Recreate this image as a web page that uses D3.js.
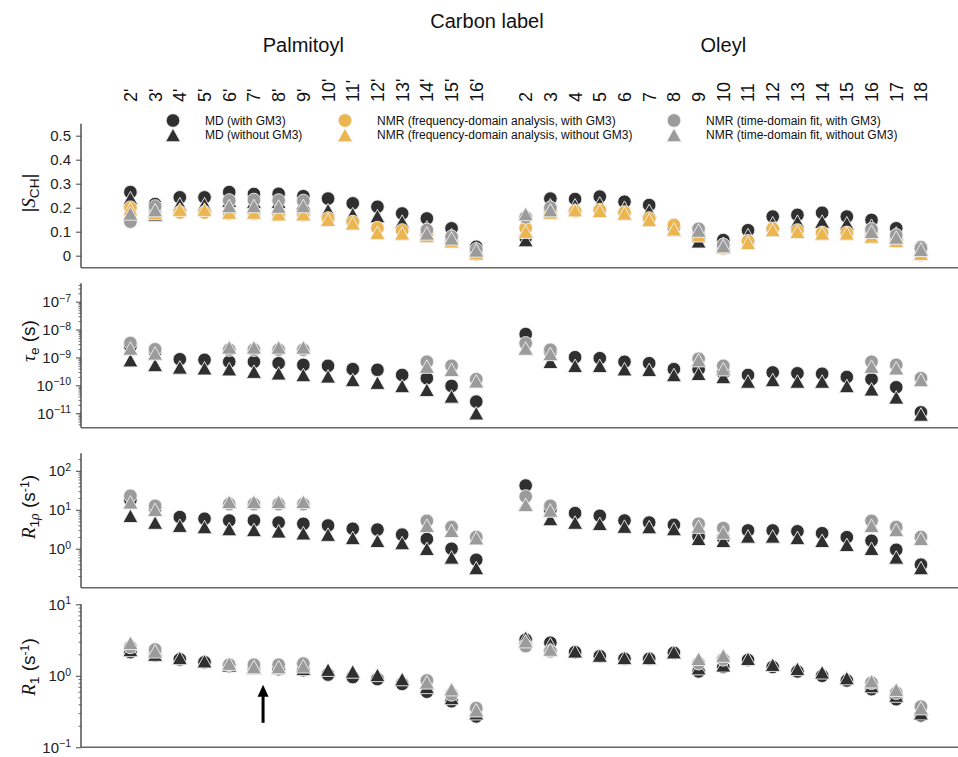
<!DOCTYPE html>
<html>
<head>
<meta charset="utf-8">
<script src="https://cdn.jsdelivr.net/npm/d3@7"></script>
<style>
  body { margin: 0; background: #fff; }
  svg { display: block; font-family: "Liberation Sans", Arial, Helvetica, sans-serif; }
</style>
</head>
<body>
<svg id="chart" width="958" height="757"></svg>
<script>
// ---- carbon positions ----
const palmitoylLabels = ["2'", "3'", "4'", "5'", "6'", "7'", "8'", "9'", "10'", "11'", "12'", "13'", "14'", "15'", "16'"];
const oleylLabels = ["2", "3", "4", "5", "6", "7", "8", "9", "10", "11", "12", "13", "14", "15", "16", "17", "18"];

// ---- series ----
const seriesNames = [
  "MD (with GM3)", "MD (without GM3)",
  "NMR (frequency-domain analysis, with GM3)", "NMR (frequency-domain analysis, without GM3)",
  "NMR (time-domain fit, with GM3)", "NMR (time-domain fit, without GM3)"
];
const seriesColors = ["#2f2f2f", "#2f2f2f", "#ebb550", "#ebb550", "#9b9b9b", "#9b9b9b"];
const seriesShapes = ["circle", "triangle", "circle", "triangle", "circle", "triangle"];

// ---- |S_CH| (palmitoyl 2'..16', then oleyl 2..18) ----
const sMDWith = [.265, .215, .243, .243, .265, .257, .258, .248, .238, .218, .204, .176, .155, .114, .037,
  .075, .238, .236, .246, .225, .211, .12, .07, .065, .106, .163, .17, .179, .163, .149, .114, .035];
const sMDWithout = [.24, .172, .215, .215, .23, .225, .225, .218, .19, .173, .165, .142, .118, .086, .03,
  .065, .21, .21, .218, .2, .187, .108, .06, .05, .086, .135, .142, .142, .135, .125, .093, .028];
const sFreqWith = [.2, .185, .18, .18, .175, .175, .17, .17, .155, .14, .115, .105, .085, .062, .005,
  .115, .185, .185, .19, .18, .155, .128, .09, .03, .06, .112, .105, .095, .095, .085, .065, .003];
const sFreqWithout = [.195, .178, .192, .192, .18, .18, .173, .173, .15, .135, .096, .093, .082, .06, .01,
  .1, .18, .19, .187, .176, .149, .11, .085, .035, .054, .107, .1, .093, .093, .08, .062, .008];
const sTimeWith = [.142, .205, null, null, .23, .232, .23, .228, null, null, null, null, .107, .079, .026,
  .16, .2, null, null, null, null, null, .112, .045, null, null, null, null, null, .11, .085, .03];
const sTimeWithout = [.176, .19, null, null, .207, .207, .205, .207, null, null, null, null, .093, .072, .022,
  .174, .19, null, null, null, null, null, .105, .04, null, null, null, null, null, .1, .076, .025];

// ---- tau_e (s) ----
const tauMDWith = [2.5e-9, 1.6e-9, 8.6e-10, 8.2e-10, 7e-10, 7e-10, 6.2e-10, 5.4e-10, 5e-10, 3.8e-10, 3.6e-10, 2.35e-10, 1.8e-10, 9.5e-11, 2.6e-11,
  6.9e-9, 1.6e-9, 1.02e-9, 9.4e-10, 7e-10, 6.2e-10, 3.8e-10, 3.8e-10, 2.7e-10, 2.35e-10, 2.9e-10, 2.7e-10, 2.6e-10, 2e-10, 1.66e-10, 8.5e-11, 1.07e-11];
const tauMDWithout = [8e-10, 5.4e-10, 4.4e-10, 4.1e-10, 3.8e-10, 3.1e-10, 2.7e-10, 2.35e-10, 2.1e-10, 1.56e-10, 1.25e-10, 9.5e-11, 6.9e-11, 4e-11, 1e-11,
  2.2e-9, 7e-10, 5e-10, 5e-10, 3.8e-10, 3.6e-10, 2.35e-10, 2.6e-10, 2e-10, 1.37e-10, 1.56e-10, 1.37e-10, 1.37e-10, 9.5e-11, 7.2e-11, 3.7e-11, 9e-12];
const tauTimeWith = [3.3e-9, 1.95e-9, null, null, 1.9e-9, 1.9e-9, 1.9e-9, 1.9e-9, null, null, null, null, 7e-10, 5e-10, 1.66e-10,
  3.2e-9, 1.9e-9, null, null, null, null, null, 9e-10, 5e-10, null, null, null, null, null, 7e-10, 5.4e-10, 1.8e-10];
const tauTimeWithout = [2.1e-9, 1.4e-9, null, null, 2.3e-9, 2.3e-9, 2.3e-9, 2.3e-9, null, null, null, null, 4.7e-10, 3.6e-10, 1.4e-10,
  2.1e-9, 1.34e-9, null, null, null, null, null, 8e-10, 3.8e-10, null, null, null, null, null, 4.7e-10, 4.1e-10, 1.56e-10];

// ---- R1rho (1/s) ----
const r1rMDWith = [18, 11, 6.5, 5.9, 5.3, 5.3, 4.7, 4.35, 3.96, 3.26, 3.1, 2.3, 1.77, 1.0, 0.52,
  42, 10, 8.2, 7, 5.3, 4.7, 4.1, 2.07, 1.9, 2.95, 2.95, 2.8, 2.5, 1.98, 1.6, 0.94, 0.39];
const r1rMDWithout = [7, 4.7, 3.9, 3.6, 3.2, 3.05, 2.8, 2.5, 2.3, 1.9, 1.6, 1.4, 1.0, 0.6, 0.32,
  14, 5.8, 4.7, 4.35, 3.7, 3.6, 3.2, 1.8, 1.6, 2.07, 2.07, 1.9, 1.6, 1.26, 1.0, 0.6, 0.32];
const r1rTimeWith = [22.9, 12.6, null, null, 14, 14, 14, 14, null, null, null, null, 5.2, 3.6, 2.0,
  21.9, 12.6, null, null, null, null, null, 4.35, 3.4, null, null, null, null, null, 5.2, 3.6, 2.0];
const r1rTimeWithout = [15.5, 10, null, null, 16, 16, 16, 16, null, null, null, null, 3.9, 2.9, 1.87,
  13.4, 9.6, null, null, null, null, null, 3.7, 2.6, null, null, null, null, null, 3.9, 3.05, 1.8];

// ---- R1 (1/s) ----
const r1MDWith = [2.14, 1.92, 1.7, 1.55, 1.36, 1.29, 1.24, 1.2, 1.04, 0.96, 0.9, 0.77, 0.6, 0.44, 0.27,
  3.2, 2.9, 2.14, 1.88, 1.73, 1.73, 2.1, 1.15, 1.33, 1.66, 1.33, 1.15, 1.0, 0.86, 0.65, 0.47, 0.28];
const r1MDWithout = [2.3, 1.98, 1.78, 1.6, 1.4, 1.3, 1.3, 1.25, 1.22, 1.15, 1.03, 0.9, 0.7, 0.49, 0.3,
  3.4, 2.75, 2.2, 1.92, 1.78, 1.78, 2.14, 1.28, 1.4, 1.73, 1.43, 1.25, 1.12, 0.93, 0.72, 0.53, 0.3];
const r1TimeWith = [2.54, 2.33, null, null, 1.43, 1.43, 1.43, 1.48, null, null, null, null, 0.86, 0.55, 0.353,
  2.6, 2.2, null, null, null, null, null, 1.5, 1.7, null, null, null, null, null, 0.8, 0.58, 0.37];
const r1TimeWithout = [2.89, 2.2, null, null, 1.48, 1.33, 1.33, 1.36, null, null, null, null, 0.81, 0.65, 0.33,
  3.05, 2.33, null, null, null, null, null, 1.73, 1.92, null, null, null, null, null, 0.84, 0.64, 0.353];

const sTicks = [0, 0.1, 0.2, 0.3, 0.4, 0.5];
const tauTicks = [1e-11, 1e-10, 1e-9, 1e-8, 1e-7];
const r1rTicks = [1e0, 1e1, 1e2];
const r1Ticks = [1e-1, 1e0, 1e1];

// ---- layout ----
const svg = d3.select("#chart");
const left = 81, right = 958;
const axisColor = "#444";

// palmitoyl carbons take slots 0..14, one empty slot, oleyl carbons 16..32
const carbonLabels = palmitoylLabels.concat(oleylLabels);
const slot = carbonLabels.map((d, i) => i < palmitoylLabels.length ? i : i + 1);
const x = d3.scaleLinear().domain([-2, 33.5]).range([left, right]);

// titles
svg.append("text").attr("x", 487).attr("y", 28).attr("text-anchor", "middle")
  .attr("font-size", 20).attr("fill", "#111").text("Carbon label");
svg.append("text").attr("x", x((0 + 14) / 2)).attr("y", 52).attr("text-anchor", "middle")
  .attr("font-size", 20).attr("fill", "#111").text("Palmitoyl");
svg.append("text").attr("x", x((16 + 32) / 2)).attr("y", 52).attr("text-anchor", "middle")
  .attr("font-size", 20).attr("fill", "#111").text("Oleyl");

// carbon tick labels along the top
svg.append("g").selectAll("text").data(carbonLabels).join("text")
  .attr("transform", (d, i) => `translate(${x(slot[i])},102) rotate(-90)`)
  .attr("dy", "0.36em")
  .attr("font-size", 18).attr("fill", "#111")
  .text(d => d);

// marker shapes
const triangleType = {
  draw(ctx, w) {
    const h = w * 0.9;
    ctx.moveTo(0, -h / 2);
    ctx.lineTo(w / 2, h / 2);
    ctx.lineTo(-w / 2, h / 2);
    ctx.closePath();
  }
};
const markerPath = shape => shape === "circle"
  ? d3.symbol().type(d3.symbolCircle).size(Math.PI * 6.8 * 6.8)()
  : d3.symbol().type(triangleType).size(15)();

const supExp = e => String(e).replace("-", "\u2212");

// panels
const panels = [
  { top: 123.7, bottom: 267.7, log: false, domain: [-0.05, 0.55], ticks: sTicks,
    series: [sMDWith, sMDWithout, sFreqWith, sFreqWithout, sTimeWith, sTimeWithout], label: "S" },
  { top: 283.3, bottom: 427.7, log: true, domain: [Math.pow(10, -11.52), Math.pow(10, -6.34)], ticks: tauTicks,
    series: [tauMDWith, tauMDWithout, null, null, tauTimeWith, tauTimeWithout], label: "tau" },
  { top: 453.3, bottom: 587.7, log: true, domain: [0.1, Math.pow(10, 2.45)], ticks: r1rTicks,
    series: [r1rMDWith, r1rMDWithout, null, null, r1rTimeWith, r1rTimeWithout], label: "r1r" },
  { top: 604.3, bottom: 747.3, log: true, domain: [0.1, 10], ticks: r1Ticks,
    series: [r1MDWith, r1MDWithout, null, null, r1TimeWith, r1TimeWithout], label: "r1" }
];

panels.forEach((p, pi) => {
  const y = (p.log ? d3.scaleLog() : d3.scaleLinear()).domain(p.domain).range([p.bottom, p.top]);
  p.y = y;
  const g = svg.append("g");

  // minor ticks for log axes
  if (p.log) {
    const minor = [];
    const e0 = Math.floor(Math.log10(p.domain[0])), e1 = Math.ceil(Math.log10(p.domain[1]));
    for (let e = e0; e <= e1; e++) {
      for (let m = 2; m <= 9; m++) {
        const v = m * Math.pow(10, e);
        if (v >= p.domain[0] && v <= p.domain[1]) minor.push(v);
      }
    }
    g.append("g").attr("transform", `translate(${left},0)`)
      .call(d3.axisLeft(y).tickValues(minor).tickSize(2.5).tickSizeOuter(0).tickFormat(""))
      .call(a => a.select(".domain").remove())
      .call(a => a.selectAll("line").attr("stroke", axisColor).attr("stroke-width", 0.8));
  }

  // major ticks + labels
  const ax = g.append("g").attr("transform", `translate(${left},0)`)
    .call(d3.axisLeft(y).tickValues(p.ticks).tickSize(5).tickSizeOuter(0).tickPadding(5)
      .tickFormat(p.log ? () => "" : (d => d === 0 ? "0" : d3.format(".1f")(d))));
  ax.select(".domain").remove();
  ax.selectAll("line").attr("stroke", axisColor).attr("stroke-width", 1);
  ax.selectAll("text").attr("font-size", 15).attr("fill", "#222")
    .attr("font-family", "'Liberation Sans', Arial, sans-serif");
  if (p.log) {
    ax.selectAll(".tick text").each(function(d) {
      const t = d3.select(this);
      t.text("10");
      t.append("tspan").attr("dy", "-0.5em").attr("font-size", "0.7em")
        .text(supExp(Math.round(Math.log10(d))));
    });
  }

  // spines
  g.append("line").attr("x1", left).attr("x2", left).attr("y1", p.top).attr("y2", p.bottom)
    .attr("stroke", axisColor).attr("stroke-width", 1.4);
  g.append("line").attr("x1", left).attr("x2", right).attr("y1", p.bottom).attr("y2", p.bottom)
    .attr("stroke", "#666").attr("stroke-width", 1.6);

  // markers, one series after another
  p.series.forEach((vals, si) => {
    if (!vals) return;
    const pts = vals.map((v, i) => ({ v, i })).filter(d => d.v !== null);
    g.append("g").selectAll("path").data(pts).join("path")
      .attr("d", markerPath(seriesShapes[si]))
      .attr("transform", d => `translate(${x(slot[d.i])},${y(d.v)})`)
      .attr("fill", seriesColors[si])
      .attr("stroke", "#f2f2f2").attr("stroke-width", 0.9);
  });
});

// y-axis titles
const serif = "'Liberation Serif', 'Times New Roman', serif";
function yTitle(cy, build) {
  const t = svg.append("text")
    .attr("transform", `translate(35,${cy}) rotate(-90)`)
    .attr("text-anchor", "middle").attr("font-size", 19).attr("fill", "#111");
  build(t);
}
yTitle(193, t => {
  t.append("tspan").text("|");
  t.append("tspan").attr("font-family", serif).attr("font-style", "italic").text("S");
  t.append("tspan").attr("dy", "0.3em").attr("font-size", "0.72em").text("CH");
  t.append("tspan").attr("dy", "-0.216em").text("|");
});
yTitle(341, t => {
  t.append("tspan").attr("font-family", serif).attr("font-style", "italic").text("\u03c4");
  t.append("tspan").attr("dy", "0.3em").attr("font-size", "0.72em").text("e");
  t.append("tspan").attr("dy", "-0.216em").text(" (s)");
});
yTitle(507, t => {
  t.append("tspan").attr("font-family", serif).attr("font-style", "italic").text("R");
  t.append("tspan").attr("dy", "0.3em").attr("font-size", "0.72em").text("1");
  t.append("tspan").attr("font-size", "0.72em").attr("font-family", serif).attr("font-style", "italic").text("\u03c1");
  t.append("tspan").attr("dy", "-0.216em").text(" (s");
  t.append("tspan").attr("dy", "-0.45em").attr("font-size", "0.65em").text("-1");
  t.append("tspan").attr("dy", "0.29em").text(")");
});
yTitle(667, t => {
  t.append("tspan").attr("font-family", serif).attr("font-style", "italic").text("R");
  t.append("tspan").attr("dy", "0.3em").attr("font-size", "0.72em").text("1");
  t.append("tspan").attr("dy", "-0.216em").text(" (s");
  t.append("tspan").attr("dy", "-0.45em").attr("font-size", "0.65em").text("-1");
  t.append("tspan").attr("dy", "0.29em").text(")");
});

// legend: three columns, "with" on the first row and "without" on the second
const legendCols = [173, 345, 674];
const legendRows = [120.5, 135];
const legend = svg.append("g");
seriesNames.forEach((name, si) => {
  const cx = legendCols[Math.floor(si / 2)], cy = legendRows[si % 2];
  legend.append("path").attr("d", markerPath(seriesShapes[si]))
    .attr("transform", `translate(${cx},${cy})`)
    .attr("fill", seriesColors[si]).attr("stroke", "#f2f2f2").attr("stroke-width", 0.9);
  legend.append("text").attr("x", cx + 32).attr("y", cy).attr("dy", "0.35em")
    .attr("font-size", 12).attr("fill", "#111").text(name);
});

// arrow in the R1 panel
const arrowAt = { slot: 5.37, from: 0.22, to: 0.75 };
const yR1 = panels[3].y;
const ax0 = x(arrowAt.slot), yTail = yR1(arrowAt.from), yTip = yR1(arrowAt.to);
svg.append("line").attr("x1", ax0).attr("x2", ax0).attr("y1", yTail).attr("y2", yTip + 10)
  .attr("stroke", "#000").attr("stroke-width", 3);
svg.append("path")
  .attr("d", `M${ax0},${yTip} L${ax0 + 5.5},${yTip + 12} L${ax0 - 5.5},${yTip + 12} Z`)
  .attr("fill", "#000");
</script>
</body>
</html>
